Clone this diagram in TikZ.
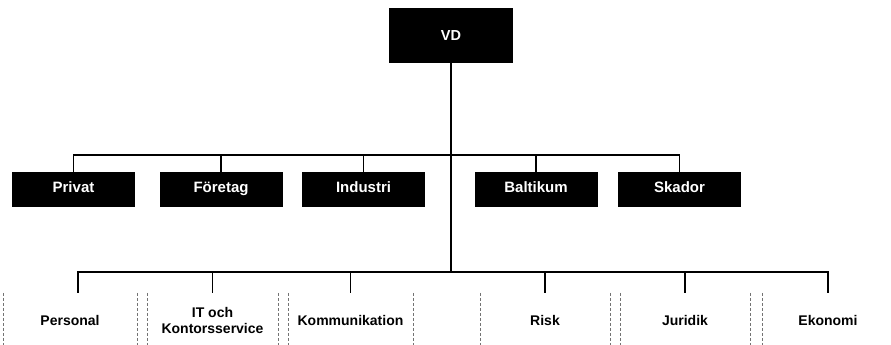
\documentclass[tikz,border=0pt]{standalone}
\usepackage{fontspec}
\setmainfont{Liberation Sans}
\usepackage{tikz}
\usetikzlibrary{positioning}

\tikzset{
  head/.style={fill=black,text=white,font=\bfseries\fontsize{14.5}{16}\selectfont,
    minimum width=124pt,minimum height=55pt,inner sep=0pt},
  area/.style={fill=black,text=white,font=\bfseries\fontsize{15}{17}\selectfont,
    text height=1.6ex,text depth=.3ex,
    minimum height=35pt,minimum width=123pt,inner sep=0pt},
  staff/.style={font=\bfseries\fontsize{14}{16}\selectfont,align=center,
    minimum height=55pt,inner sep=0pt},
  conn/.style={line width=1.3pt},
  side/.style={black!55,line width=0.6pt,dash pattern=on 3pt off 2pt}
}

\begin{document}
\begin{tikzpicture}[x=1pt,y=-1pt]
\useasboundingbox (0,0) rectangle (891,345);

% top
\node[head] (vd) at (451,35.5) {VD};

% business areas
\node[area] (privat)   at (73.5,189.5)  {Privat};
\node[area] (foretag)  at (221,189.5)   {Företag};
\node[area] (industri) at (363.5,189.5) {Industri};
\node[area] (baltikum) at (536,189.5)   {Baltikum};
\node[area] (skador)   at (679.5,189.5) {Skador};

% staff functions
\node[staff,minimum width=134pt] (personal) at (70,320.5)    {Personal};
\node[staff,minimum width=131pt] (itks)     at (212.5,320.5) {IT och\\Kontorsservice};
\node[staff,minimum width=125pt] (komm)     at (350.5,320.5) {Kommunikation};
\node[staff,minimum width=130pt] (risk)     at (545,320.5)   {Risk};
\node[staff,minimum width=130pt] (juridik)  at (685,320.5)   {Juridik};
\node[staff,minimum width=132pt] (ekonomi)  at (828,320.5)   {Ekonomi};

\coordinate (midbus) at (451,155);
\coordinate (lowbus) at (451,272);

\draw[conn] (vd.south) -- (lowbus);
\foreach \n in {privat,foretag,industri,baltikum,skador}
  \draw[conn] (\n.north) |- (midbus);
\draw[conn] ([xshift=8pt]personal.north) |- (lowbus);
\foreach \n in {itks,komm,risk,juridik,ekonomi}
  \draw[conn] (\n.north) |- (lowbus);

% faint box edges
\foreach \n in {personal,itks,komm,risk,juridik,ekonomi}
  \draw[side] (\n.north west) -- (\n.south west) (\n.north east) -- (\n.south east);
\end{tikzpicture}
\end{document}
